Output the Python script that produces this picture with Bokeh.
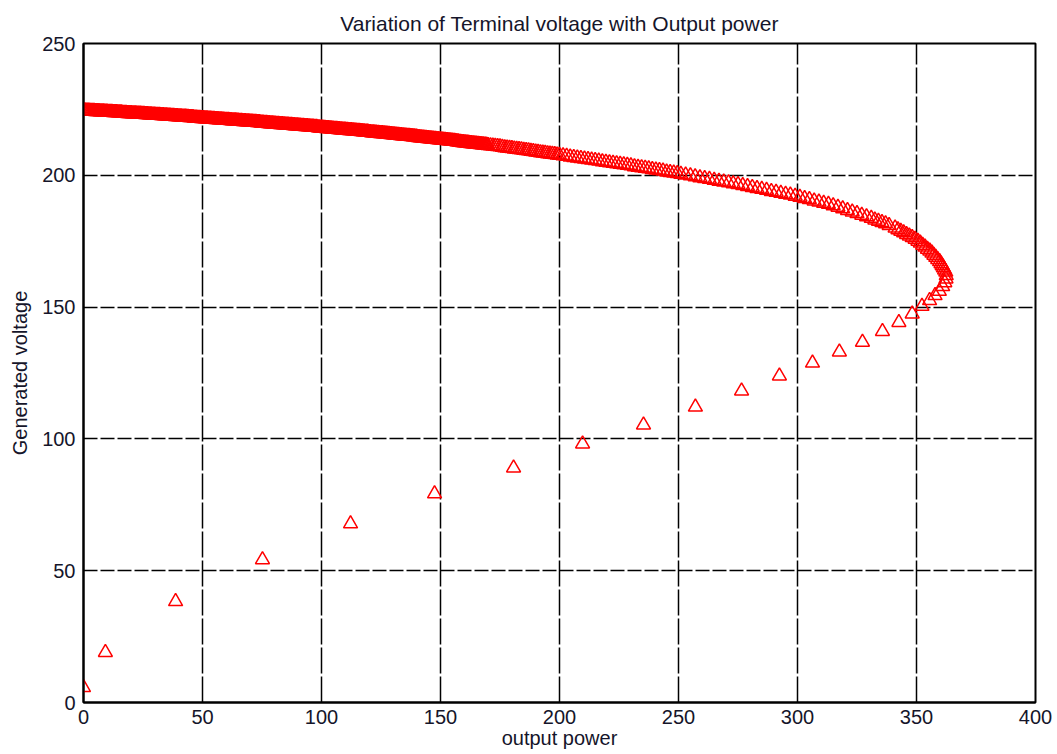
from bokeh.plotting import figure
from bokeh.models import FixedTicker, Range1d
from bokeh.embed import file_html
from bokeh.resources import INLINE

# Upper (stable) branch: output power and terminal voltage, light load to the knee
power_upper = [
    0, 1, 2, 3, 4, 5, 6, 7, 8, 9, 10, 11, 12, 13, 14, 15, 16, 17, 18, 19, 20, 21, 22, 23, 24,
    25, 26, 27, 28, 29, 30, 31, 32, 33, 34, 35, 36, 37, 38, 39, 40, 41, 42, 43, 44, 45, 46, 47, 48, 49,
    50, 51, 52, 53, 54, 55, 56, 57, 58, 59, 60, 61, 62, 63, 64, 65, 66, 67, 68, 69, 70, 71, 72, 73, 74,
    75, 76, 77, 78, 79, 80, 81, 82, 83, 84, 85, 86, 87, 88, 89, 90, 91, 92, 93, 94, 95, 96, 97, 98, 99,
    100, 101, 102, 103, 104, 105, 106, 107, 108, 109, 110, 111, 112, 113, 114, 115, 116, 117, 118, 119,
    120, 121, 122, 123, 124,
    125, 126, 127, 128, 129, 130, 131, 132, 133, 134, 135, 136, 137, 138, 139, 140, 141, 142, 143, 144,
    145, 146, 147, 148, 149,
    150, 151, 152, 153, 154, 155, 156, 157, 158, 159, 160, 161, 162, 163, 164, 165, 166, 167, 168, 169,
    170, 171, 172, 173, 174,
    175, 176, 177, 178, 179, 180, 181, 182, 183, 184, 185, 186, 187, 188, 189, 190, 191, 192, 193, 194,
    195, 196, 197, 198, 199,
    200, 201.5, 203, 204.5, 206, 207.5, 209, 210.5, 212, 213.5, 215, 216.5, 218, 219.5, 221, 222.5, 224,
    225.5, 227, 228.5, 230, 231.5, 233, 234.5, 236, 237.5, 239, 240.5, 242, 243.5, 245, 246.5, 248, 249.5,
    251, 253, 255, 257, 259, 261, 263, 265, 267, 269, 271, 273,
    275, 277, 279, 281, 283, 285, 287, 289, 291, 293, 295, 297, 299,
    301, 303, 305, 307, 309, 311, 313, 315,
    317, 319, 321, 323, 325, 327, 329,
    331, 332.5, 334, 335.5, 337, 338.5,
    341, 342.2, 343.4, 344.6, 345.8, 347, 348.2, 349.4,
    350.6, 351.6, 352.6, 353.6, 354.6, 355.6,
    356.5, 357.3, 358.1, 358.9, 359.7,
    360.3, 360.8, 361.3, 361.8, 362.3,
]
volt_upper = [
    224.5, 224.4, 224.4, 224.3, 224.3, 224.2, 224.2, 224.1, 224.1, 224.0, 224.0, 223.9, 223.9, 223.8,
    223.8, 223.7, 223.7, 223.6, 223.6, 223.5, 223.5, 223.4, 223.4, 223.3, 223.3,
    223.2, 223.1, 223.1, 223.0, 222.9, 222.9, 222.8, 222.8, 222.7, 222.6, 222.6, 222.5, 222.4, 222.4,
    222.3, 222.2, 222.2, 222.1, 222.1, 222.0, 221.9, 221.9, 221.8, 221.7, 221.7,
    221.6, 221.5, 221.5, 221.4, 221.3, 221.3, 221.2, 221.1, 221.1, 221.0, 220.9, 220.9, 220.8, 220.7,
    220.7, 220.6, 220.5, 220.4, 220.4, 220.3, 220.2, 220.2, 220.1, 220.0, 220.0,
    219.9, 219.8, 219.8, 219.7, 219.6, 219.5, 219.4, 219.4, 219.3, 219.2, 219.1, 219.1, 219.0, 218.9,
    218.8, 218.8, 218.7, 218.6, 218.5, 218.5, 218.4, 218.3, 218.2, 218.2, 218.1,
    218.0, 217.9, 217.8, 217.8, 217.7, 217.6, 217.5, 217.4, 217.3, 217.2, 217.2, 217.1, 217.0, 216.9,
    216.8, 216.7, 216.7, 216.6, 216.5, 216.4, 216.3, 216.2, 216.2, 216.1, 216.0,
    215.9, 215.8, 215.7, 215.6, 215.5, 215.4, 215.3, 215.2, 215.1, 215.0, 214.9, 214.8, 214.8, 214.7,
    214.6, 214.5, 214.4, 214.3, 214.2, 214.1, 214.0, 213.9, 213.8, 213.7, 213.6,
    213.5, 213.4, 213.3, 213.2, 213.1, 213.0, 212.9, 212.7, 212.6, 212.5, 212.4, 212.3, 212.2, 212.1,
    212.0, 211.9, 211.8, 211.7, 211.6, 211.5, 211.3, 211.2, 211.1, 211.0, 210.9,
    210.8, 210.7, 210.5, 210.4, 210.3, 210.2, 210.0, 209.9, 209.8, 209.7, 209.5, 209.4, 209.3, 209.1,
    209.0, 208.9, 208.8, 208.6, 208.5, 208.4, 208.2, 208.1, 208.0, 207.9, 207.7,
    207.6, 207.4, 207.2, 207.0, 206.8, 206.6, 206.4, 206.2, 206.0, 205.8, 205.6, 205.4, 205.2, 205.0,
    204.8, 204.6, 204.4,
    204.2, 204.0, 203.8, 203.6, 203.3, 203.1, 202.9, 202.7, 202.5, 202.2, 202.0, 201.8, 201.6, 201.3,
    201.1, 200.9, 200.7,
    200.4, 200.1, 199.8, 199.5, 199.1, 198.8, 198.5, 198.1, 197.8, 197.5, 197.2, 196.8,
    196.5, 196.1, 195.8, 195.4, 195.0, 194.7, 194.3, 193.9, 193.6, 193.2, 192.8, 192.5, 192.1,
    191.7, 191.2, 190.8, 190.3, 189.9, 189.4, 189.0, 188.5,
    187.9, 187.3, 186.7, 186.1, 185.5, 184.9, 184.3,
    183.7, 183.1, 182.6, 182.1, 181.6, 181.0,
    180.0, 179.4, 178.8, 178.2, 177.6, 177.0, 176.4, 175.8,
    175.0, 174.3, 173.5, 172.8, 172.0, 171.3,
    170.5, 169.7, 168.9, 168.1, 167.3,
    166.5, 165.7, 164.9, 164.1, 163.3,
]

# Light-load samples lying between the ones above, where the markers merge into a solid band
power_light = [
    0.5, 1.5, 2.5, 3.5, 4.5, 5.5, 6.5, 7.5, 8.5, 9.5, 10.5, 11.5, 12.5, 13.5, 14.5, 15.5, 16.5, 17.5,
    18.5, 19.5, 20.5, 21.5, 22.5, 23.5, 24.5,
    25.5, 26.5, 27.5, 28.5, 29.5, 30.5, 31.5, 32.5, 33.5, 34.5, 35.5, 36.5, 37.5, 38.5, 39.5, 40.5,
    41.5, 42.5, 43.5, 44.5, 45.5, 46.5, 47.5, 48.5, 49.5,
    50.5, 51.5, 52.5, 53.5, 54.5, 55.5, 56.5, 57.5, 58.5, 59.5, 60.5, 61.5, 62.5, 63.5, 64.5, 65.5,
    66.5, 67.5, 68.5, 69.5, 70.5, 71.5, 72.5, 73.5, 74.5,
    75.5, 76.5, 77.5, 78.5, 79.5, 80.5, 81.5, 82.5, 83.5, 84.5, 85.5, 86.5, 87.5, 88.5, 89.5, 90.5,
    91.5, 92.5, 93.5, 94.5, 95.5, 96.5, 97.5, 98.5, 99.5,
    100.5, 101.5, 102.5, 103.5, 104.5, 105.5, 106.5, 107.5, 108.5, 109.5, 110.5, 111.5, 112.5, 113.5,
    114.5, 115.5, 116.5, 117.5, 118.5, 119.5, 120.5, 121.5, 122.5, 123.5, 124.5,
    125.5, 126.5, 127.5, 128.5, 129.5, 130.5, 131.5, 132.5, 133.5, 134.5, 135.5, 136.5, 137.5, 138.5,
    139.5, 140.5, 141.5, 142.5, 143.5, 144.5, 145.5, 146.5, 147.5, 148.5, 149.5,
    150.5, 151.5, 152.5, 153.5, 154.5, 155.5, 156.5, 157.5, 158.5, 159.5, 160.5, 161.5, 162.5, 163.5,
    164.5, 165.5, 166.5, 167.5, 168.5, 169.5,
]
volt_light = [
    224.5, 224.4, 224.4, 224.3, 224.3, 224.2, 224.2, 224.1, 224.1, 224.0, 223.9, 223.9, 223.8, 223.8,
    223.7, 223.7, 223.6, 223.6, 223.5, 223.5, 223.4, 223.4, 223.3, 223.3, 223.2,
    223.2, 223.1, 223.0, 223.0, 222.9, 222.8, 222.8, 222.7, 222.7, 222.6, 222.5, 222.5, 222.4, 222.3,
    222.3, 222.2, 222.1, 222.1, 222.0, 221.9, 221.9, 221.8, 221.8, 221.7, 221.6,
    221.6, 221.5, 221.4, 221.4, 221.3, 221.2, 221.2, 221.1, 221.0, 220.9, 220.9, 220.8, 220.7, 220.7,
    220.6, 220.5, 220.5, 220.4, 220.3, 220.3, 220.2, 220.1, 220.1, 220.0, 219.9,
    219.9, 219.8, 219.7, 219.6, 219.6, 219.5, 219.4, 219.3, 219.3, 219.2, 219.1, 219.0, 219.0, 218.9,
    218.8, 218.7, 218.6, 218.6, 218.5, 218.4, 218.3, 218.3, 218.2, 218.1, 218.0,
    218.0, 217.9, 217.8, 217.7, 217.6, 217.5, 217.5, 217.4, 217.3, 217.2, 217.1, 217.0, 217.0, 216.9,
    216.8, 216.7, 216.6, 216.5, 216.4, 216.4, 216.3, 216.2, 216.1, 216.0, 215.9,
    215.9, 215.8, 215.7, 215.6, 215.5, 215.4, 215.3, 215.2, 215.1, 215.0, 214.9, 214.8, 214.7, 214.6,
    214.5, 214.4, 214.3, 214.2, 214.1, 214.0, 213.9, 213.8, 213.7, 213.6, 213.5,
    213.4, 213.3, 213.2, 213.1, 213.0, 212.9, 212.8, 212.7, 212.6, 212.5, 212.4, 212.3, 212.1, 212.0,
    211.9, 211.8, 211.7, 211.6, 211.5, 211.4,
]

# Lower (unstable) branch: past the knee, heavier load collapses the voltage
power_lower = [
    362.5, 362.4, 361.9, 361.0, 359.6, 357.8, 355.5, 352.3, 348.2, 342.6, 335.7, 327.3,
    317.6, 306.3, 292.4, 276.5, 257.1, 235.3, 209.7, 180.7, 147.5, 112.2, 75.2, 38.7, 9.2, 0.0,
]
volt_lower = [
    162.0, 160.7, 159.3, 157.8, 156.0, 154.4, 152.5, 150.3, 147.4, 144.2, 140.8, 136.7,
    133.0, 128.8, 123.9, 118.2, 112.1, 105.3, 98.1, 89.0, 79.2, 67.8, 54.2, 38.3, 19.0, 5.7,
]

x_ticks = [0, 50, 100, 150, 200, 250, 300, 350, 400]
y_ticks = [0, 50, 100, 150, 200, 250]

FONT = "Liberation Sans"
TEXT_COLOR = "#15152a"

p = figure(
    width=1057, height=754,
    x_range=Range1d(0, 400), y_range=Range1d(0, 250),
    output_backend="svg", toolbar_location=None,
    min_border_left=83, min_border_right=22, min_border_top=42, min_border_bottom=52,
    background_fill_color="white", border_fill_color="white",
)

p.title.text = "Variation of Terminal voltage with Output power"
p.title.align = "center"
p.title.text_font = FONT
p.title.text_font_size = "21px"
p.title.text_font_style = "normal"
p.title.text_color = TEXT_COLOR
p.title.standoff = 18

p.outline_line_color = "black"
p.outline_line_width = 2
p.outline_line_alpha = 1.0

for ax in (p.xaxis[0], p.yaxis[0]):
    ax.axis_line_color = "black"
    ax.axis_line_width = 2
    ax.major_tick_in = 5
    ax.major_tick_out = 0
    ax.minor_tick_line_color = None
    ax.major_tick_line_color = "black"
    ax.major_label_text_font = FONT
    ax.major_label_text_font_size = "20px"
    ax.major_label_text_color = TEXT_COLOR
    ax.axis_label_text_font = FONT
    ax.axis_label_text_font_size = "20px"
    ax.axis_label_text_font_style = "normal"
    ax.axis_label_text_color = TEXT_COLOR

p.xaxis.ticker = FixedTicker(ticks=x_ticks)
p.yaxis.ticker = FixedTicker(ticks=y_ticks)
p.xaxis.axis_label = "output power"
p.yaxis.axis_label = "Generated voltage"
p.xaxis.major_label_standoff = 7
p.xaxis.axis_label_standoff = 0
p.yaxis.major_label_standoff = 8
p.yaxis.axis_label_standoff = 8

p.xgrid.grid_line_color = "black"
p.xgrid.grid_line_width = 1.5
p.xgrid.grid_line_dash = "26 3"
p.ygrid.grid_line_color = "black"
p.ygrid.grid_line_width = 1.5
p.ygrid.grid_line_dash = "14 3"

marker_style = dict(marker="triangle", size=14, line_color="red", line_width=1.5, fill_color=None)
p.scatter(power_upper, volt_upper, **marker_style)
p.scatter(power_light, volt_light, **marker_style)
p.scatter(power_lower, volt_lower, **marker_style)

open("out.html", "w").write(file_html(p, INLINE))
